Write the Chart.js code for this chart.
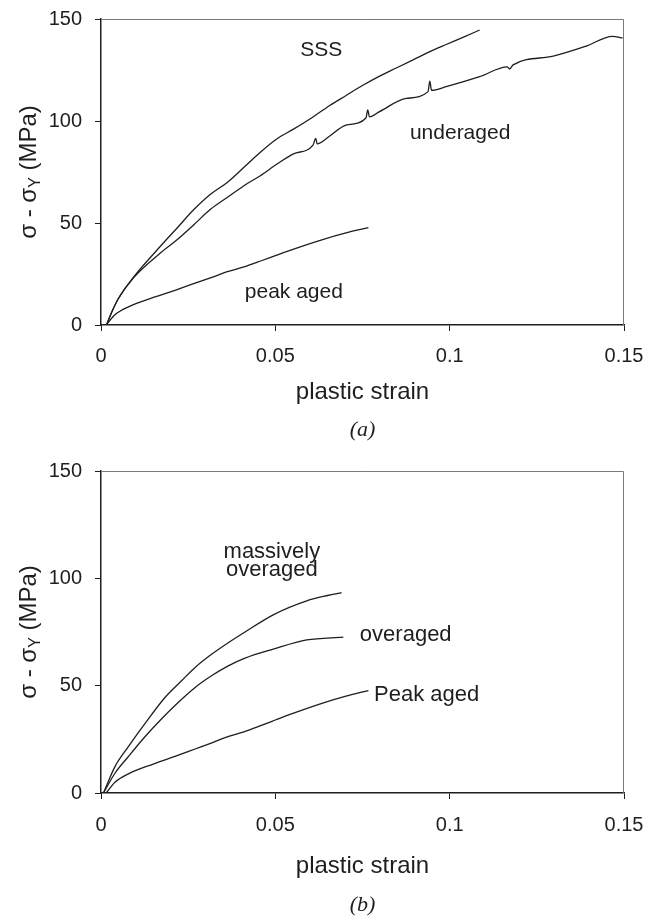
<!DOCTYPE html>
<html>
<head>
<meta charset="utf-8">
<script src="https://cdn.jsdelivr.net/npm/chart.js@4.4.1/dist/chart.umd.min.js"></script>
<style>
  body { margin: 0; background: #fff; }
  canvas { position: absolute; left: 0; }
  #chartA { top: 0; }
  #chartB { top: 445px; }
</style>
</head>
<body>
<canvas id="chartA" width="648" height="445"></canvas>
<canvas id="chartB" width="648" height="473"></canvas>
<script>
// values (strain, stress in MPa)
const sssStrain = [0.0016, 0.003, 0.005, 0.0095, 0.0171, 0.0219, 0.0267, 0.0314, 0.0362, 0.041, 0.0457, 0.0505, 0.0552, 0.0608, 0.0655, 0.0703, 0.0751, 0.0799, 0.0847, 0.0895, 0.0943, 0.099, 0.1038, 0.1086];
const sssStress = [0, 6, 13, 23.8, 38.7, 47.7, 56.7, 64.1, 69.9, 77.3, 84.7, 91.3, 96, 102, 107.5, 112.5, 117.5, 122, 126, 130, 134, 137.5, 141, 144.6];

const underStrain = [0.0016, 0.003, 0.005, 0.0095, 0.0171, 0.0219, 0.0267, 0.0314, 0.0362, 0.041, 0.0457, 0.0505, 0.0552, 0.0608, 0.0616, 0.062, 0.0655, 0.0703, 0.076, 0.0765, 0.077, 0.0799, 0.0876, 0.0938, 0.0943, 0.0948, 0.099, 0.1086, 0.1165, 0.1172, 0.1182, 0.1297, 0.139, 0.1467, 0.1496];
const underStress = [0, 6, 13, 23.5, 35.4, 41.9, 49.3, 56.7, 62.5, 68.3, 73.2, 78.9, 83.9, 88.2, 91.5, 88.8, 92.5, 98, 101.5, 105.5, 102, 104.6, 111.1, 114.4, 119.5, 115, 116.8, 121.7, 126.5, 125.5, 127.5, 131.8, 136.6, 141.5, 140.7];

const peakStrain = [0.0015, 0.004, 0.008, 0.015, 0.022, 0.027, 0.032, 0.036, 0.041, 0.046, 0.05, 0.0532, 0.0638, 0.07, 0.0767];
const peakStress = [0, 5, 9, 13.5, 17.5, 20.5, 23.5, 26, 28.5, 31.5, 34, 36, 42, 45, 47.7];

const massStrain = [0.0007, 0.002, 0.004, 0.0078, 0.0126, 0.0184, 0.0231, 0.027, 0.0317, 0.0365, 0.0413, 0.0494, 0.059, 0.065, 0.069];
const massStress = [0, 5, 12.3, 21.5, 32.3, 44.6, 52.3, 58.5, 64.6, 70, 75, 83, 89.5, 92, 93.3];

const overStrain = [0.0007, 0.004, 0.0078, 0.0126, 0.0174, 0.0222, 0.027, 0.0317, 0.0365, 0.0413, 0.0494, 0.059, 0.0695];
const overStress = [0, 9.2, 16.9, 26.2, 34.6, 42.3, 49.2, 54.6, 59.2, 62.8, 67, 71.3, 72.6];

const xTicks = [0, 0.05, 0.1, 0.15];
const yTicks = [0, 50, 100, 150];

const FONT = '"Liberation Sans", Arial, sans-serif';
const INK = '#1e1e1e';

function pts(xs, ys) {
  return xs.map((x, i) => ({ x: x, y: ys[i] }));
}

function curve(label, xs, ys) {
  return {
    label: label,
    data: pts(xs, ys),
    showLine: true,
    borderColor: INK,
    borderWidth: 1.3,
    pointRadius: 0,
    cubicInterpolationMode: 'monotone',
    fill: false
  };
}

// box, axis titles, panel letter and the curve labels
const decor = {
  id: 'decor',
  afterDatasetsDraw(chart, args, opts) {
    const { ctx, chartArea: a, scales } = chart;
    ctx.save();
    ctx.strokeStyle = '#7a7a7a';
    ctx.lineWidth = 1;
    ctx.beginPath();
    ctx.moveTo(a.left, a.top + 0.5);
    ctx.lineTo(a.right - 0.5, a.top + 0.5);
    ctx.lineTo(a.right - 0.5, a.bottom);
    ctx.stroke();

    ctx.fillStyle = INK;
    ctx.textAlign = 'center';
    ctx.textBaseline = 'middle';
    ctx.font = opts.noteSize + 'px ' + FONT;
    opts.notes.forEach(n => {
      ctx.fillText(n.text, scales.x.getPixelForValue(n.x), scales.y.getPixelForValue(n.y));
    });
    const cx = (a.left + a.right) / 2;
    ctx.font = '24px ' + FONT;
    ctx.fillText('plastic strain', cx, a.bottom + opts.titleGap);
    ctx.font = 'italic 22px "Liberation Serif", "Times New Roman", serif';
    ctx.fillText(opts.panel, cx, a.bottom + opts.panelGap);

    // σ - σY (MPa), Y as subscript
    ctx.translate(28, (a.top + a.bottom) / 2);
    ctx.rotate(-Math.PI / 2);
    ctx.textAlign = 'left';
    ctx.textBaseline = 'alphabetic';
    const big = '24px ' + FONT, small = '16px ' + FONT;
    ctx.font = big;
    const w1 = ctx.measureText('σ - σ').width;
    const w3 = ctx.measureText(' (MPa)').width;
    ctx.font = small;
    const w2 = ctx.measureText('Y').width;
    const x0 = -(w1 + w2 + w3) / 2;
    ctx.font = big;
    ctx.fillText('σ - σ', x0, 8);
    ctx.font = small;
    ctx.fillText('Y', x0 + w1, 12);
    ctx.font = big;
    ctx.fillText(' (MPa)', x0 + w1 + w2, 8);
    ctx.restore();
  }
};

function makeChart(id, datasets, cfg) {
  return new Chart(document.getElementById(id), {
    type: 'scatter',
    data: { datasets: datasets },
    plugins: [decor],
    options: {
      responsive: false,
      devicePixelRatio: 1,
      animation: false,
      layout: { padding: { top: cfg.top, right: 24, left: 0, bottom: 0 } },
      plugins: {
        legend: { display: false },
        tooltip: { enabled: false },
        decor: cfg.decor
      },
      scales: {
        x: {
          type: 'linear',
          min: 0,
          max: 0.15,
          afterBuildTicks: s => { s.ticks = xTicks.map(v => ({ value: v })); },
          afterFit: s => {
            s.height = cfg.xHeight;
            s.paddingLeft = 0;
            s.paddingRight = 0;
          },
          ticks: {
            color: INK,
            font: { family: FONT, size: 20 },
            padding: cfg.xPad,
            maxRotation: 0,
            callback: v => String(+v.toFixed(2))
          },
          grid: { drawOnChartArea: false, tickLength: 6, color: INK, lineWidth: 1 },
          border: { display: true, color: INK, width: 1.5 }
        },
        y: {
          type: 'linear',
          min: 0,
          max: 150,
          afterBuildTicks: s => { s.ticks = yTicks.map(v => ({ value: v })); },
          afterFit: s => {
            s.width = 101;
            s.paddingTop = 0;
            s.paddingBottom = 0;
          },
          ticks: {
            color: INK,
            font: { family: FONT, size: 20 },
            padding: 13
          },
          grid: { drawOnChartArea: false, tickLength: 6, color: INK, lineWidth: 1 },
          border: { display: true, color: INK, width: 1.5 }
        }
      }
    }
  });
}

makeChart('chartA', [
  curve('SSS', sssStrain, sssStress),
  curve('underaged', underStrain, underStress),
  curve('peak aged', peakStrain, peakStress)
], {
  top: 19, xHeight: 120, xPad: 13,
  decor: {
    panel: '(a)', titleGap: 67, panelGap: 105, noteSize: 21,
    notes: [
      { text: 'SSS', x: 0.0632, y: 134.8 },
      { text: 'underaged', x: 0.103, y: 94 },
      { text: 'peak aged', x: 0.0553, y: 16.3 }
    ]
  }
});

makeChart('chartB', [
  curve('massively overaged', massStrain, massStress),
  curve('overaged', overStrain, overStress),
  curve('Peak aged', peakStrain, peakStress)
], {
  top: 26, xHeight: 125, xPad: 14,
  decor: {
    panel: '(b)', titleGap: 73, panelGap: 112, noteSize: 22,
    notes: [
      { text: 'massively', x: 0.049, y: 112.5 },
      { text: 'overaged', x: 0.049, y: 103.8 },
      { text: 'overaged', x: 0.0874, y: 73.6 },
      { text: 'Peak aged', x: 0.0934, y: 45.7 }
    ]
  }
});
</script>
</body>
</html>
